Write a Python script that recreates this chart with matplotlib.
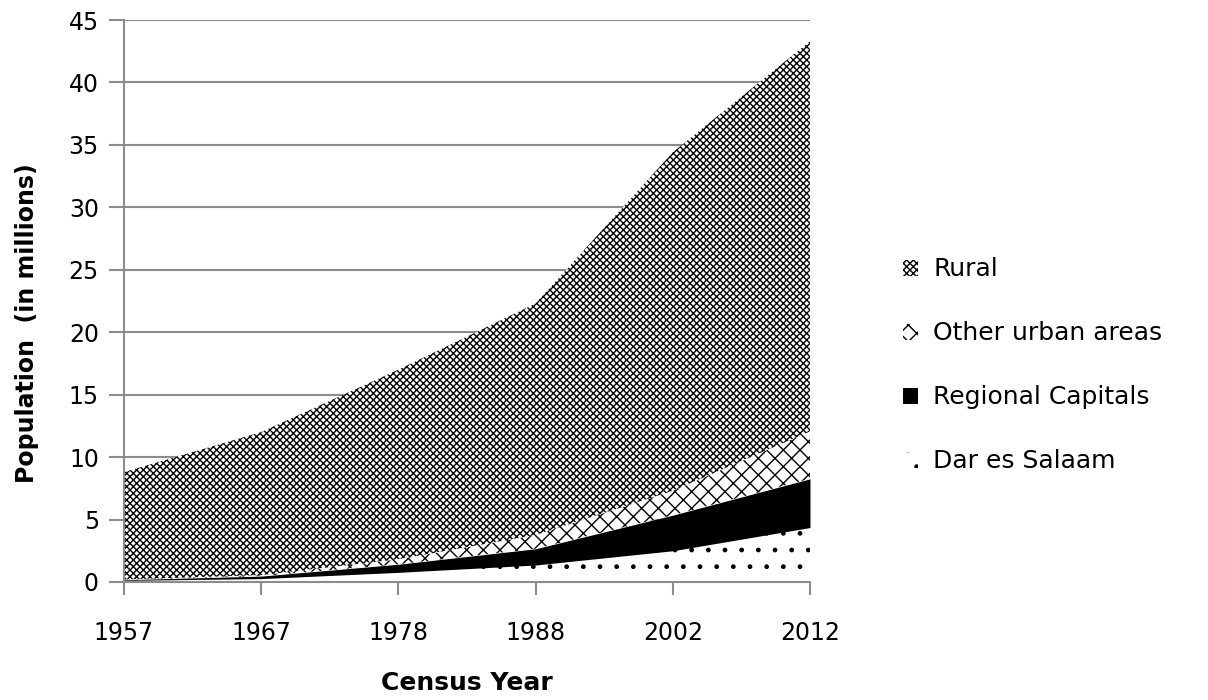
import numpy as np
import matplotlib.pyplot as plt
from matplotlib.patches import Patch

# Census years (equally spaced categories) and population by area, in millions
years = ["1957", "1967", "1978", "1988", "2002", "2012"]
dar_es_salaam = [0.13, 0.27, 0.77, 1.36, 2.50, 4.36]
regional_capitals = [0.05, 0.20, 0.65, 1.30, 2.85, 3.90]
other_urban = [0.02, 0.08, 0.40, 1.10, 1.95, 3.80]
rural = [8.60, 11.45, 15.18, 18.54, 27.10, 31.24]

plt.rcParams["hatch.linewidth"] = 1.0
plt.rcParams["font.family"] = "DejaVu Sans"

fig = plt.figure(figsize=(12.08, 7), dpi=100)
ax = fig.add_axes([0.1026, 0.1686, 0.5679, 0.8028])

x = np.arange(len(years))
layers = [
    ("Dar es Salaam", dar_es_salaam, "white", "."),
    ("Regional Capitals", regional_capitals, "black", None),
    ("Other urban areas", other_urban, "white", "xx"),
    ("Rural", rural, "white", "xxxxx"),
]

bottom = np.zeros(len(years))
handles = {}
for name, vals, fc, hatch in layers:
    top = bottom + np.array(vals)
    ax.fill_between(x, bottom, top, facecolor=fc, edgecolor="black",
                    hatch=hatch, linewidth=0)
    handles[name] = Patch(facecolor=fc, edgecolor="black", hatch=hatch, linewidth=0)
    bottom = top

ax.set_xlim(0, len(years) - 1)
ax.set_ylim(0, 45)
ax.set_yticks(range(0, 46, 5))
ax.set_xticks(x)
ax.set_xticklabels(years)
ax.yaxis.grid(True, color="#8c8c8c", linewidth=1.5)
ax.set_axisbelow(True)
for s in ["top", "right"]:
    ax.spines[s].set_visible(False)
for s in ["left", "bottom"]:
    ax.spines[s].set_color("#8c8c8c")
    ax.spines[s].set_linewidth(1.5)
ax.tick_params(axis="both", colors="#8c8c8c", width=1.5,
               labelsize=17, labelcolor="black")
ax.tick_params(axis="y", length=11, pad=7)
ax.tick_params(axis="x", length=9, pad=19)

ax.set_ylabel("Population  (in millions)", fontsize=17, fontweight="bold",
              family="Liberation Sans Narrow")
ax.yaxis.set_label_coords(-0.124, 0.46)
ax.set_xlabel("Census Year", fontsize=18, fontweight="bold",
              family="Liberation Sans Narrow")
ax.xaxis.set_label_coords(0.5, -0.158)

order = ["Rural", "Other urban areas", "Regional Capitals", "Dar es Salaam"]
fig.legend([handles[n] for n in order], order, loc="center left",
           bbox_to_anchor=(0.729, 0.478), frameon=False, fontsize=18,
           handlelength=0.6, handleheight=0.6, handletextpad=0.6,
           labelspacing=1.6)

fig.savefig("out.png", dpi=100)
